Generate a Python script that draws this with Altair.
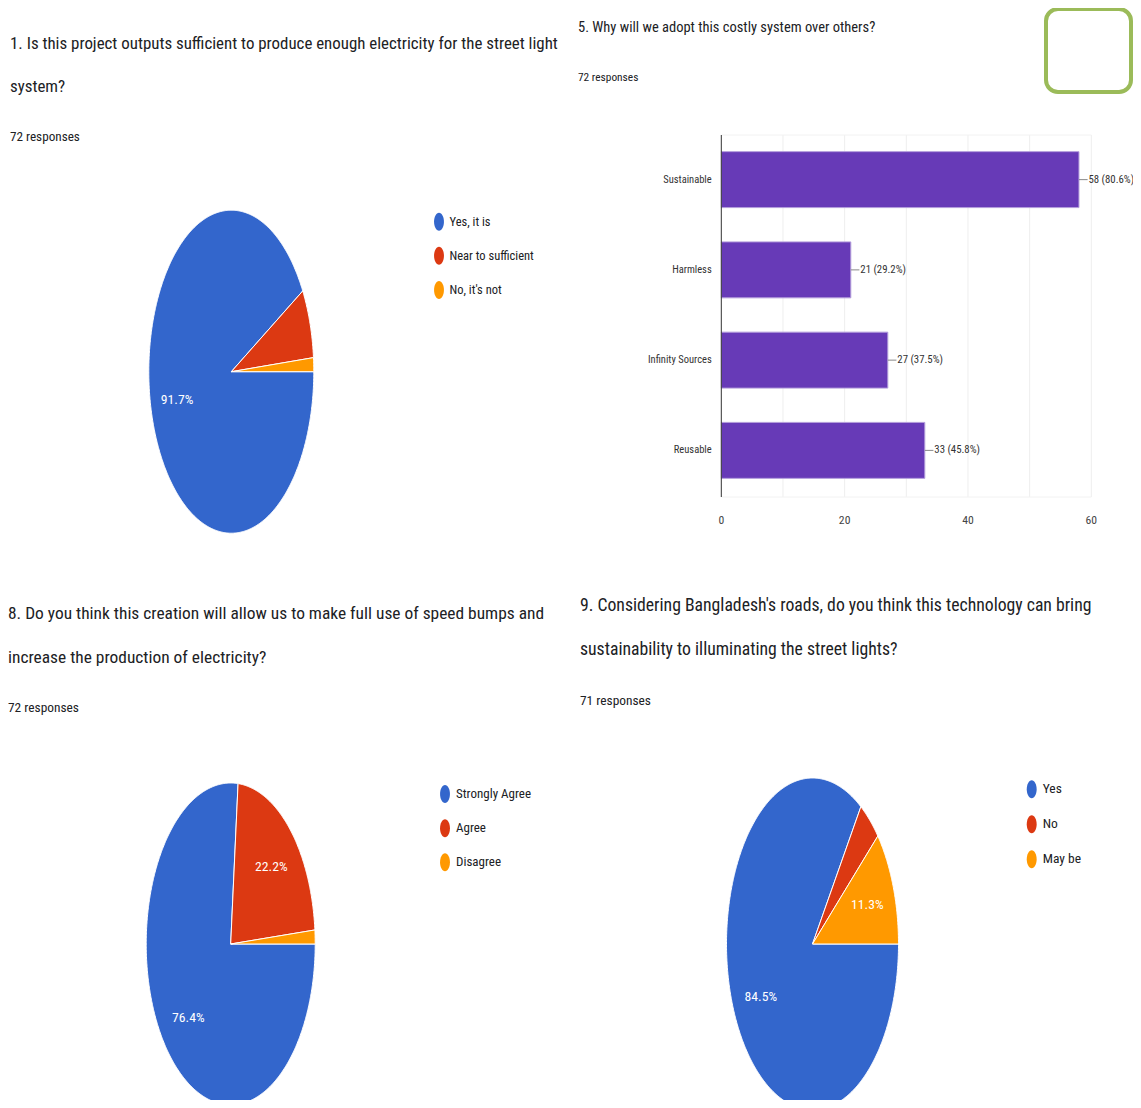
import altair as alt
import numpy as np
import pandas as pd

# ---------------- data ----------------
q1_title = ["1. Is this project outputs sufficient to produce enough electricity for the street light", "system?"]
q1_note = "72 responses"
q1_answers = ["Yes, it is", "Near to sufficient", "No, it's not"]
q1_counts = [66, 5, 1]

q5_title = "5. Why will we adopt this costly system over others?"
q5_note = "72 responses"
q5_options = ["Sustainable", "Harmless", "Infinity Sources", "Reusable"]
q5_counts = [58, 21, 27, 33]
q5_respondents = 72
q5_ticks = [0, 20, 40, 60]
q5_grid = [10, 20, 30, 40, 50, 60]

q8_title = ["8. Do you think this creation will allow us to make full use of speed bumps and",
            "increase the production of electricity?"]
q8_note = "72 responses"
q8_answers = ["Strongly Agree", "Agree", "Disagree"]
q8_counts = [55, 16, 1]

q9_title = ["9. Considering Bangladesh's roads, do you think this technology can bring",
            "sustainability to illuminating the street lights?"]
q9_note = "71 responses"
q9_answers = ["Yes", "No", "May be"]
q9_counts = [60, 3, 8]

slice_colors = ["#3366cc", "#dc3912", "#ff9900"]

# ---------------- style ----------------
FONT = "Liberation Sans Narrow, Roboto Condensed, DejaVu Sans Condensed, Arial Narrow, sans-serif"
INK = "#202124"
DOT = ("M0,-1C0.304,-1,0.55,-0.552,0.55,0C0.55,0.552,0.304,1,0,1"
       "C-0.304,1,-0.55,0.552,-0.55,0C-0.55,-0.552,-0.304,-1,0,-1Z")
one = alt.Data(values=[{"k": 0}])


def pie(answers, counts, xr, yr, leg_x, leg_y, leg_dx, leg_size):
    total = sum(counts)
    pts, labs = [], []
    start = 0.0
    for ans, c in zip(answers, counts):
        frac = c / total
        a0, a1 = 2 * np.pi * start, 2 * np.pi * (start + frac)
        n = max(2, int(np.ceil((a1 - a0) / np.radians(0.5))))
        ring = np.linspace(a0, a1, n + 1)
        xs = [0.0] + [float(v) for v in np.cos(ring)] + [0.0]
        ys = [0.0] + [float(-v) for v in np.sin(ring)] + [0.0]
        for i, (px, py) in enumerate(zip(xs, ys)):
            pts.append({"answer": ans, "i": i, "px": px, "py": py})
        if frac >= 0.1:
            mid = (a0 + a1) / 2
            labs.append({"answer": ans, "px": 0.68 * float(np.cos(mid)),
                         "py": -0.68 * float(np.sin(mid)), "pct": f"{frac * 100:.1f}%"})
        start += frac
    sx = alt.Scale(domain=[-1, 1], range=xr, nice=False, zero=False)
    sy = alt.Scale(domain=[-1, 1], range=yr, nice=False, zero=False)
    cs = alt.Scale(domain=answers, range=slice_colors)
    slices = alt.Chart(pd.DataFrame(pts)).mark_line(
        stroke="white", strokeWidth=1, strokeJoin="round"
    ).encode(
        x=alt.X("px:Q", scale=sx, axis=None),
        y=alt.Y("py:Q", scale=sy, axis=None),
        fill=alt.Fill("answer:N", scale=cs, legend=None),
        detail="answer:N",
        order="i:Q",
    )
    labels = alt.Chart(pd.DataFrame(labs)).mark_text(
        color="white", font=FONT, fontSize=13.7, baseline="middle"
    ).encode(
        x=alt.X("px:Q", scale=sx, axis=None),
        y=alt.Y("py:Q", scale=sy, axis=None),
        text="pct:N",
    )
    leg = pd.DataFrame({"answer": answers})
    ly = alt.Scale(type="point", domain=answers, range=leg_y, padding=0)
    dots = alt.Chart(leg).mark_point(
        shape=DOT, filled=True, size=324, opacity=1, strokeWidth=0
    ).encode(
        x=alt.value(leg_x),
        y=alt.Y("answer:N", scale=ly, axis=None),
        color=alt.Color("answer:N", scale=cs, legend=None),
    )
    texts = alt.Chart(leg).mark_text(
        align="left", baseline="middle", font=FONT, fontSize=leg_size, color=INK
    ).encode(
        x=alt.value(leg_x + leg_dx),
        y=alt.Y("answer:N", scale=ly, axis=None),
        text="answer:N",
    )
    return [slices, labels, dots, texts]


def text_block(lines, x, y, size, lh=44):
    return alt.Chart(one).mark_text(
        text=lines, align="left", baseline="middle", font=FONT,
        fontSize=size, lineHeight=lh, color=INK
    ).encode(x=alt.value(x), y=alt.value(y))


# ---------------- bar chart ----------------
bar_df = pd.DataFrame({"option": q5_options, "count": q5_counts})
bar_df["label"] = [f"{c} ({c / q5_respondents * 100:.1f}%)" for c in q5_counts]
bx = alt.Scale(domain=[0, 60], range=[713.3, 1083.3], nice=False, zero=False)
by = alt.Scale(type="band", domain=q5_options, range=[126.5, 487.5],
               paddingInner=0.38, paddingOuter=0.19)

grid = alt.Chart(pd.DataFrame({"v": q5_grid})).mark_rule(color="#eeeeee", strokeWidth=1).encode(
    x=alt.X("v:Q", scale=bx, axis=None), y=alt.value(127), y2=alt.value(489))
frame_top = alt.Chart(one).mark_rule(color="#f2f2f2", strokeWidth=1).encode(
    x=alt.X(datum=0, scale=bx, axis=None), x2=alt.X2(datum=60), y=alt.value(127))
frame_bot = alt.Chart(one).mark_rule(color="#f2f2f2", strokeWidth=1).encode(
    x=alt.X(datum=0, scale=bx, axis=None), x2=alt.X2(datum=60), y=alt.value(489))
bars = alt.Chart(bar_df).mark_bar(color="#673ab7", stroke="#b39ddb", strokeWidth=1).encode(
    x=alt.X("count:Q", scale=bx, axis=None),
    y=alt.Y("option:N", scale=by, axis=None),
)
axis_line = alt.Chart(one).mark_rule(color="#333333", strokeWidth=1).encode(
    x=alt.X(datum=0, scale=bx, axis=None), y=alt.value(127), y2=alt.value(489))
leaders = alt.Chart(bar_df).transform_calculate(lead="datum.count + 1.4").mark_rule(
    color="#888888", strokeWidth=1).encode(
    x=alt.X("count:Q", scale=bx, axis=None), x2="lead:Q",
    y=alt.Y("option:N", scale=by, axis=None, bandPosition=0.5))
values = alt.Chart(bar_df).mark_text(
    align="left", baseline="middle", dx=9.5, font=FONT, fontSize=10.8, color="#333333").encode(
    x=alt.X("count:Q", scale=bx, axis=None),
    y=alt.Y("option:N", scale=by, axis=None, bandPosition=0.5),
    text="label:N")
cats = alt.Chart(bar_df).mark_text(
    align="right", baseline="middle", font=FONT, fontSize=10.5, color="#333333").encode(
    x=alt.value(703.7),
    y=alt.Y("option:N", scale=by, axis=None, bandPosition=0.5),
    text="option:N")
ticks = alt.Chart(pd.DataFrame({"t": q5_ticks})).mark_text(
    align="center", baseline="middle", font=FONT, fontSize=11.7, color="#444444").encode(
    x=alt.X("t:Q", scale=bx, axis=None), y=alt.value(512), text="t:Q")

box = alt.Chart(one).mark_rect(filled=False, stroke="#9bbb59", strokeWidth=4, cornerRadius=12).encode(
    x=alt.value(1038), x2=alt.value(1123), y=alt.value(1), y2=alt.value(84))

layers = []
layers += [text_block(q1_title, 2, 35.5, 16.9, 43), text_block(q1_note, 2, 129, 13.2)]
layers += pie(q1_answers, q1_counts, [140.8, 305.8], [525.2, 202.2], 431, [213.7, 282], 10.5, 12.5)
layers += [text_block(q5_title, 570, 20, 14.5), text_block(q5_note, 570, 70, 11.4)]
layers += [grid, frame_top, frame_bot, bars, axis_line, leaders, values, cats, ticks, box]
layers += [text_block(q8_title, 0, 606, 17.4, 44), text_block(q8_note, 0, 700, 13.4)]
layers += pie(q8_answers, q8_counts, [138.2, 307.2], [1097, 775], 437, [786, 854.3], 11, 13)
layers += [text_block(q9_title, 572, 598, 17.7, 44), text_block(q9_note, 572, 693, 13.4)]
layers += pie(q9_answers, q9_counts, [718.5, 890.5], [1102, 770], 1023.7, [781.3, 851.3], 11, 13.5)

chart = alt.layer(*layers).resolve_scale(
    x="independent", y="independent", color="independent", fill="independent"
).properties(
    width=1125, height=1092, padding=0, autosize=alt.AutoSizeParams(type="none")
).configure_view(stroke=None)

chart.save("out.html", embed_options={"renderer": "svg", "actions": False})
